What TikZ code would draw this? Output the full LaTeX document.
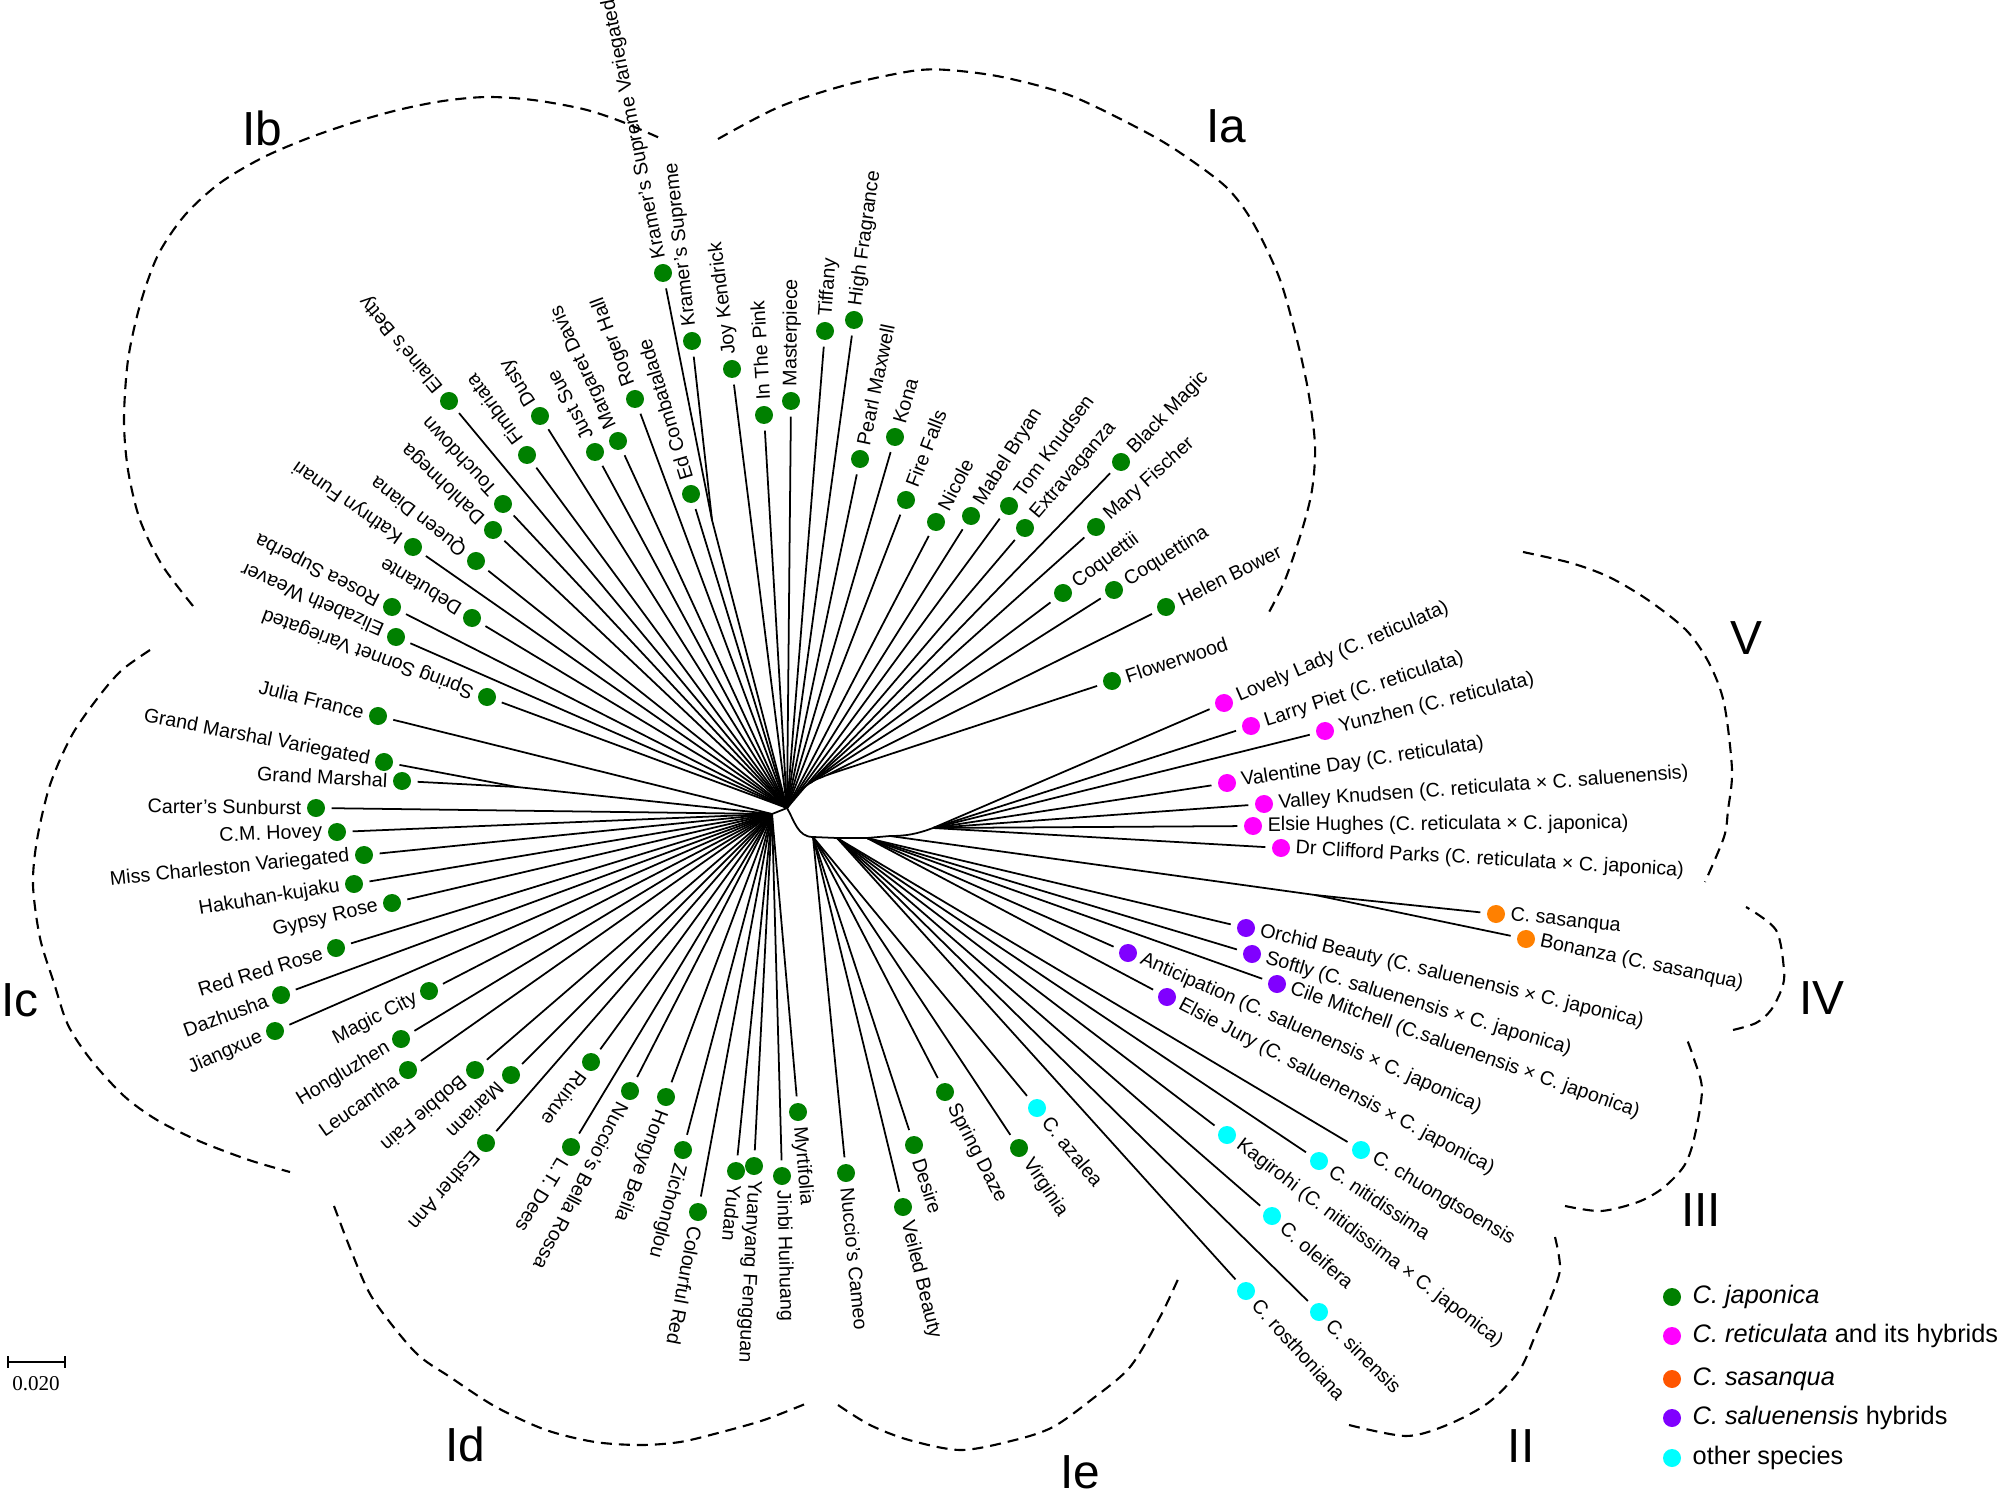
\documentclass[tikz,border=0pt]{standalone}
\usepackage{fontspec}
\setmainfont{Liberation Sans}
\newfontfamily\barfont{Liberation Serif}
\usetikzlibrary{calc}

\definecolor{japonica}{RGB}{0,128,0}
\definecolor{reticulata}{RGB}{255,0,255}
\definecolor{sasanqua}{RGB}{255,128,0}
\definecolor{sasanquakey}{RGB}{255,85,0}
\definecolor{saluenensis}{RGB}{128,0,255}
\definecolor{otherspp}{RGB}{0,255,255}

\begin{document}
\begin{tikzpicture}[x=0.01cm, y=0.01cm,
    branch/.style={line width=0.5pt, shorten >=0.06cm},
    leafdot/.style={circle, fill=#1, inner sep=0pt, minimum size=0.18cm},
    leaftext/.style={inner sep=0pt, font=\fontsize{5.6}{6.7}\selectfont},
    labside/.code={\pgfkeysalso{rotate=#1}\ifnum#1=0 \pgfkeysalso{anchor=west}\else\pgfkeysalso{anchor=east}\fi},
    clade/.style={line width=0.6pt, dash pattern=on 0.11cm off 0.07cm},
    cladename/.style={font=\fontsize{13.6}{16}\selectfont},
    keytext/.style={anchor=west, inner sep=0pt, font=\fontsize{7.2}{9}\selectfont}]
  \useasboundingbox (0,0) rectangle (2007,-1495);

  \coordinate (c) at (787,-808);
  \coordinate (w) at (772,-814);
  \coordinate (ne1) at (810,-783);
  \coordinate (ne2) at (827,-775);
  \coordinate (s) at (813,-837);
  \coordinate (se1) at (837,-838);
  \coordinate (se2) at (867,-838);
  \coordinate (se3) at (890,-836);
  \coordinate (v) at (933,-828);
  \coordinate (pKra) at (712,-520);
  \coordinate (pGM) at (517,-787);
  \coordinate (pSas) at (1315,-895);

  \draw[line width=0.5pt] (c) -- (w) (c) -- (pKra) (w) -- (pGM) (se3) -- (pSas);
  \draw[line width=0.5pt] (c) to[out=60,in=215] (ne1) to[out=35,in=205] (ne2);
  \draw[line width=0.5pt] (c) to[out=-60,in=180] (s) -- (se1) -- (se2) -- (se3) to[out=0,in=200] (v);

  \foreach \nm/\from/\px/\py/\clr/\turn/\txt in {
    kravar/pKra/663/273/japonica/0/{Kramer's Supreme Variegated},
    kramer/pKra/692/341/japonica/0/{Kramer's Supreme},
    joyk/c/732/369/japonica/0/{Joy Kendrick},
    inpink/c/764/415/japonica/0/{In The Pink},
    master/c/791/401/japonica/0/{Masterpiece},
    tiffany/c/825/331/japonica/0/{Tiffany},
    highfr/c/854/320/japonica/0/{High Fragrance},
    pearlm/c/860/459/japonica/0/{Pearl Maxwell},
    kona/c/895/437/japonica/0/{Kona},
    firef/c/906/500/japonica/0/{Fire Falls},
    nicole/c/936/522/japonica/0/{Nicole},
    mabelb/c/971/516/japonica/0/{Mabel Bryan},
    tomkn/c/1009/506/japonica/0/{Tom Knudsen},
    extrav/c/1025/528/japonica/0/{Extravaganza},
    blackm/ne1/1121/462/japonica/0/{Black Magic},
    maryf/ne1/1096/527/japonica/0/{Mary Fischer},
    coqii/ne1/1063/593/japonica/0/{Coquettii},
    coqina/ne1/1114/590/japonica/0/{Coquettina},
    helenb/ne2/1166/607/japonica/0/{Helen Bower},
    flowerw/ne2/1112/681/japonica/0/{Flowerwood},
    edcomb/c/691/494/japonica/0/{Ed Combatalade},
    rogerh/c/635/399/japonica/0/{Roger Hall},
    margd/c/618/441/japonica/0/{Margaret Davis},
    justsue/c/595/452/japonica/0/{Just Sue},
    dusty/c/540/416/japonica/0/{Dusty},
    fimbr/c/527/455/japonica/0/{Fimbriata},
    elaine/c/449/401/japonica/0/{Elaine's Betty},
    touchd/c/503/504/japonica/0/{Touchdown},
    dahlo/c/493/530/japonica/0/{Dahlohnega},
    kathf/c/413/547/japonica/0/{Kathryn Funari},
    queend/c/476/561/japonica/0/{Queen Diana},
    rosea/c/392/607/japonica/0/{Rosea Superba},
    debut/c/472/618/japonica/0/{Debutante},
    elizw/c/396/637/japonica/0/{Elizabeth Weaver},
    sonnet/c/487/697/japonica/0/{Spring Sonnet Variegated},
    julia/w/378/716/japonica/180/{Julia France},
    gmvar/pGM/384/762/japonica/180/{Grand Marshal Variegated},
    gmarsh/pGM/402/781/japonica/180/{Grand Marshal},
    carter/w/316/808/japonica/180/{Carter's Sunburst},
    cmhovey/w/337/832/japonica/180/{C.M. Hovey},
    missch/w/364/855/japonica/180/{Miss Charleston Variegated},
    hakuh/w/354/884/japonica/180/{Hakuhan-kujaku},
    gypsy/w/392/903/japonica/180/{Gypsy Rose},
    redred/w/336/948/japonica/180/{Red Red Rose},
    dazhu/w/281/995/japonica/180/{Dazhusha},
    jiangx/w/275/1031/japonica/180/{Jiangxue},
    magicc/w/429/991/japonica/180/{Magic City},
    honglu/w/401/1039/japonica/180/{Hongluzhen},
    leucan/w/408/1070/japonica/180/{Leucantha},
    bobbie/w/475/1070/japonica/0/{Bobbie Fain},
    mariann/w/511/1075/japonica/0/{Mariann},
    esther/w/486/1143/japonica/0/{Esther Ann},
    ruixue/w/591/1062/japonica/0/{Ruixue},
    ltdees/w/571/1147/japonica/0/{L.T. Dees},
    bellar/w/630/1091/japonica/0/{Nuccio's Bella Rossa},
    hongye/w/666/1097/japonica/0/{Hongye Beila},
    zichong/w/683/1150/japonica/0/{Zichonglou},
    colourr/w/698/1212/japonica/0/{Colourful Red},
    yudan/w/736/1171/japonica/0/{Yudan},
    yuany/w/754/1166/japonica/0/{Yuanyang Fengguan},
    jinbi/w/782/1176/japonica/0/{Jinbi Huihuang},
    myrti/w/798/1112/japonica/0/{Myrtifolia},
    cameo/s/846/1173/japonica/0/{Nuccio's Cameo},
    veiled/s/903/1207/japonica/0/{Veiled Beauty},
    desire/s/914/1145/japonica/0/{Desire},
    springd/s/945/1092/japonica/0/{Spring Daze},
    virginia/s/1019/1148/japonica/0/{Virginia},
    azalea/s/1037/1108/otherspp/0/{C. azalea},
    rostho/se1/1246/1291/otherspp/0/{C. rosthoniana},
    sinens/se1/1319/1312/otherspp/0/{C. sinensis},
    oleif/se1/1272/1216/otherspp/0/{C. oleifera},
    kagir/se1/1227/1135/otherspp/0/{Kagirohi (C. nitidissima × C. japonica)},
    nitid/se1/1319/1161/otherspp/0/{C. nitidissima},
    chuong/se1/1361/1150/otherspp/0/{C. chuongtsoensis},
    orchid/se2/1246/928/saluenensis/0/{Orchid Beauty (C. saluenensis × C. japonica)},
    softly/se2/1252/954/saluenensis/0/{Softly (C. saluenensis × C. japonica)},
    cilem/se2/1277/984/saluenensis/0/{Cile Mitchell (C.saluenensis × C. japonica)},
    antic/se2/1128/953/saluenensis/0/{Anticipation (C. saluenensis × C. japonica)},
    elsiej/se2/1167/997/saluenensis/0/{Elsie Jury (C. saluenensis × C. japonica)},
    sasanq/pSas/1496/914/sasanqua/0/{C. sasanqua},
    bonanza/pSas/1526/939/sasanqua/0/{Bonanza (C. sasanqua)},
    lovely/v/1224/703/reticulata/0/{Lovely Lady (C. reticulata)},
    larryp/v/1251/726/reticulata/0/{Larry Piet (C. reticulata)},
    yunzh/v/1325/731/reticulata/0/{Yunzhen (C. reticulata)},
    valent/v/1227/783/reticulata/0/{Valentine Day (C. reticulata)},
    valleyk/v/1264/804/reticulata/0/{Valley Knudsen (C. reticulata × C. saluenensis)},
    elsieh/v/1253/826/reticulata/0/{Elsie Hughes (C. reticulata × C. japonica)},
    clifford/v/1281/848/reticulata/0/{Dr Clifford Parks (C. reticulata × C. japonica)}}
  {
    \node[leafdot=\clr] (\nm) at (\px,-\py) {};
    \draw[branch] (\from) -- (\nm);
    \path let \p1=($(\nm)-(\from)$), \n1={atan2(\y1,\x1)} in
      node[leaftext, rotate=\n1, labside=\turn] at ($(\nm)+(\n1:14)$) {\txt};
  }

  \draw[clade] plot[smooth] coordinates {(718,-139) (779,-107) (846,-85) (912,-71) (948,-70) (1002,-77) (1069,-95) (1136,-127) (1176,-150) (1225,-186) (1252,-221) (1279,-277) (1296,-336) (1308,-390) (1315,-445) (1312,-490) (1302,-530) (1285,-580) (1268,-614)};
  \draw[clade] plot[smooth] coordinates {(193,-606) (162,-565) (140,-520) (128,-470) (124,-420) (128,-360) (140,-305) (158,-255) (185,-215) (220,-183) (262,-158) (306,-139) (352,-123) (398,-110) (443,-101) (487,-97) (533,-100) (583,-109) (620,-121) (662,-139)};
  \draw[clade] plot[smooth] coordinates {(150,-650) (122,-670) (100,-695) (72,-735) (50,-785) (37,-840) (33,-885) (40,-938) (54,-983) (68,-1025) (91,-1060) (124,-1096) (157,-1120) (199,-1141) (249,-1160) (290,-1172)};
  \draw[clade] plot[smooth] coordinates {(334,-1206) (352,-1253) (373,-1299) (415,-1352) (450,-1377) (496,-1407) (546,-1430) (595,-1442) (641,-1445) (680,-1442) (718,-1433) (764,-1420) (810,-1402)};
  \draw[clade] plot[smooth] coordinates {(838,-1405) (870,-1425) (909,-1440) (961,-1450) (1015,-1440) (1053,-1427) (1091,-1400) (1130,-1367) (1160,-1317) (1179,-1277)};
  \draw[clade] plot[smooth] coordinates {(1349,-1425) (1406,-1436) (1447,-1425) (1488,-1403) (1519,-1371) (1535,-1336) (1550,-1300) (1560,-1269) (1555,-1237)};
  \draw[clade] plot[smooth] coordinates {(1565,-1206) (1601,-1211) (1638,-1202) (1663,-1188) (1684,-1166) (1694,-1139) (1702,-1090) (1694,-1059) (1686,-1037)};
  \draw[clade] plot[smooth] coordinates {(1733,-1030) (1756,-1023) (1771,-1010) (1782,-988) (1784,-970) (1776,-930) (1746,-907)};
  \draw[clade] plot[smooth] coordinates {(1523,-552) (1571,-563) (1609,-577) (1648,-600) (1686,-630) (1709,-663) (1724,-703) (1732,-770) (1728,-810) (1724,-837) (1705,-882)};

  \node[cladename] (Ia) at (1226,-126) {Ia};
  \node[cladename] (Ib) at (262,-128) {Ib};
  \node[cladename] (Ic) at (20,-1000) {Ic};
  \node[cladename] (Id) at (465,-1444) {Id};
  \node[cladename] (Ie) at (1080,-1472) {Ie};
  \node[cladename] (II) at (1521,-1446) {II};
  \node[cladename] (III) at (1701,-1210) {III};
  \node[cladename] (IV) at (1822,-998) {IV};
  \node[cladename] (V) at (1746,-638) {V};

  \coordinate (sbl) at (8,-1362);
  \coordinate (sbr) at (65,-1362);
  \draw[line width=0.5pt] (sbl) -- (sbr) ($(sbl)+(0,6)$) -- ($(sbl)+(0,-6)$) ($(sbr)+(0,6)$) -- ($(sbr)+(0,-6)$);
  \node[font=\barfont\fontsize{6}{7}\selectfont] (sbtext) at (36,-1384) {0.020};

  \foreach \kid/\ky/\clr/\txt in {
    kjap/1297/japonica/{\textit{C. japonica}},
    kret/1336/reticulata/{\textit{C. reticulata} and its hybrids},
    ksas/1379/sasanquakey/{\textit{C. sasanqua}},
    ksal/1418/saluenensis/{\textit{C. saluenensis} hybrids},
    koth/1458/otherspp/{other species}}
  {
    \node[leafdot=\clr] (\kid) at (1672,-\ky) {};
    \node[keytext] (t\kid) at ($(\kid)+(20,0)$) {\txt};
  }
\end{tikzpicture}
\end{document}
